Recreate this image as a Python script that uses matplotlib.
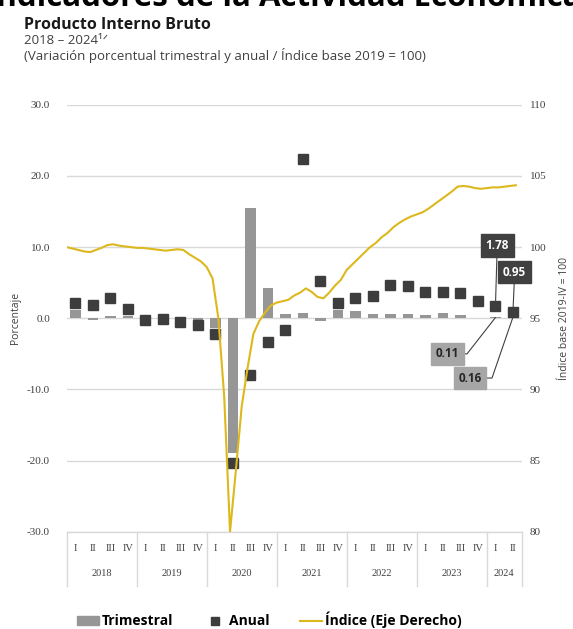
import matplotlib
matplotlib.use("Agg")
import matplotlib.pyplot as plt
from matplotlib.patches import Patch
from matplotlib.lines import Line2D
import matplotlib.transforms as mtransforms

plt.rcParams['font.family'] = ['Open Sans', 'DejaVu Sans']

years = ["2018", "2019", "2020", "2021", "2022", "2023", "2024"]
quarters_per_year = [4, 4, 4, 4, 4, 4, 2]
quarter_names = ["I", "II", "III", "IV"]

# Quarterly % change (bars)
trimestral = [1.1, -0.2, 0.3, 0.3,
              0.1, -0.2, -0.3, -0.5,
              -1.3, -18.9, 15.5, 4.3,
              0.6, 0.7, -0.4, 1.2,
              1.0, 0.6, 0.6, 0.6,
              0.4, 0.7, 0.4, 0.1,
              0.11, 0.16]
# Annual % change (squares)
anual = [2.2, 1.8, 2.8, 1.3,
         -0.2, -0.1, -0.5, -1.0,
         -2.2, -20.4, -8.0, -3.3,
         -1.6, 22.4, 5.2, 2.1,
         2.9, 3.1, 4.7, 4.5,
         3.7, 3.7, 3.5, 2.4,
         1.78, 0.95]
# Monthly index (right axis), Jan 2018 - Jun 2024
indice = [100.0, 99.9, 99.8, 99.7, 99.65, 99.8, 99.95, 100.15, 100.2, 100.1, 100.05, 100.0,
          99.95, 99.95, 99.9, 99.85, 99.8, 99.75, 99.8, 99.85, 99.8, 99.5, 99.25, 99.0,
          98.6, 97.8, 95.0, 89.5, 80.0, 84.3, 88.8, 91.5, 93.9, 94.8, 95.4, 95.9,
          96.1, 96.2, 96.3, 96.6, 96.8, 97.1, 96.85, 96.5, 96.4, 96.8, 97.3, 97.7,
          98.4, 98.8, 99.2, 99.6, 100.0, 100.3, 100.7, 101.0, 101.4, 101.7, 101.95, 102.15,
          102.3, 102.45, 102.7, 103.0, 103.3, 103.6, 103.9, 104.25, 104.3, 104.25, 104.15, 104.1,
          104.15, 104.2, 104.2, 104.25, 104.3, 104.35]

left_ticks = [30, 20, 10, 0, -10, -20, -30]
right_ticks = [110, 105, 100, 95, 90, 85, 80]

bar_color = "#969696"
sq_color = "#3d3d3d"
line_color = "#DDB81C"
grid_color = "#d9d9d9"
txt_color = "#404040"

fig = plt.figure(figsize=(5.73, 6.29), dpi=100)
ax = fig.add_axes([0.1164, 0.1547, 0.7941, 0.6786])
ax2 = ax.twinx()

n = len(trimestral)
xq = list(range(n))
ax.bar(xq, trimestral, width=0.58, color=bar_color, zorder=2)
ax.plot(xq, anual, linestyle="none", marker="s", markersize=6.8,
        color=sq_color, zorder=3)

xm = [-0.5 + m / 3 for m in range(len(indice))]
ax2.plot(xm, indice, color=line_color, lw=1.5, zorder=4)

ax.set_xlim(-0.5, n - 0.5)
ax.set_ylim(-30, 30)
ax2.set_ylim(80, 110)
ax.set_yticks(left_ticks)
ax.set_yticklabels([f"{v:.1f}" for v in left_ticks], fontsize=8,
                   color=txt_color, family="Liberation Serif")
ax2.set_yticks(right_ticks)
ax2.set_yticklabels([str(v) for v in right_ticks], fontsize=8,
                    color=txt_color, family="Liberation Serif")
ax.tick_params(axis="y", length=0, pad=12)
ax2.tick_params(axis="y", length=0, pad=6)
ax.set_xticks([])
ax.grid(axis="y", color=grid_color, lw=1, zorder=0)
ax.set_axisbelow(True)
for a in (ax, ax2):
    for s in a.spines.values():
        s.set_visible(False)
ax.axhline(-30, color=grid_color, lw=1, zorder=1, clip_on=False)

ax.set_ylabel("Porcentaje", fontsize=7.5, color=txt_color, labelpad=4)
ax2.set_ylabel("Índice base 2019-IV = 100", fontsize=7.5, color=txt_color,
               rotation=90, labelpad=9)

# category table below axis
trans = mtransforms.blended_transform_factory(ax.transData, ax.transAxes)
pos = -0.5
sep_bottom = -0.127
ax.plot([pos, pos], [0, sep_bottom], transform=trans, color=grid_color,
        lw=1, clip_on=False)
qi = 0
for yr, nq in zip(years, quarters_per_year):
    for k in range(nq):
        ax.text(qi, -0.04, quarter_names[k], transform=trans, ha="center",
                va="center", fontsize=7.5, color=txt_color,
                family="Liberation Serif")
        qi += 1
    ax.text(pos + nq / 2, -0.098, yr, transform=trans, ha="center",
            va="center", fontsize=7.5, color=txt_color,
            family="Liberation Serif")
    pos += nq
    ax.plot([pos, pos], [0, sep_bottom], transform=trans, color=grid_color,
            lw=1, clip_on=False)

# annotations
dark_box = dict(boxstyle="square,pad=0.4", fc="#404040", ec="#404040")
grey_box = dict(boxstyle="square,pad=0.4", fc="#a6a6a6", ec="#a6a6a6")
ax.annotate(f"{anual[24]:.2f}", xy=(24, anual[24]), xytext=(24.1, 10.2),
            ha="center", va="center", fontsize=8.5, fontweight="bold",
            color="white", bbox=dark_box,
            arrowprops=dict(arrowstyle="-", color="#404040", lw=0.8,
                            shrinkA=0, shrinkB=3), zorder=6)
ax.annotate(f"{anual[25]:.2f}", xy=(25, anual[25]), xytext=(25.1, 6.5),
            ha="center", va="center", fontsize=8.5, fontweight="bold",
            color="white", bbox=dark_box,
            arrowprops=dict(arrowstyle="-", color="#404040", lw=0.8,
                            shrinkA=0, shrinkB=3), zorder=6)
ax.annotate(f"{trimestral[24]:.2f}", xy=(24, trimestral[24]), xytext=(21.25, -5.0),
            ha="center", va="center", fontsize=8.5, fontweight="bold",
            color="#262626", bbox=grey_box,
            arrowprops=dict(arrowstyle="-", color="#404040", lw=0.8,
                            shrinkA=0, shrinkB=0, relpos=(1, 0.5),
                            connectionstyle="angle,angleA=0,angleB=52,rad=0"),
            zorder=6)
ax.annotate(f"{trimestral[25]:.2f}", xy=(25, trimestral[25]), xytext=(22.55, -8.4),
            ha="center", va="center", fontsize=8.5, fontweight="bold",
            color="#262626", bbox=grey_box,
            arrowprops=dict(arrowstyle="-", color="#404040", lw=0.8,
                            shrinkA=0, shrinkB=0, relpos=(1, 0.5),
                            connectionstyle="angle,angleA=0,angleB=71,rad=0"),
            zorder=6)

# titles
fig.text(-0.025, 0.991, "Indicadores de la Actividad Económica", fontsize=22.5,
         fontweight="bold", color="black", ha="left", va="baseline")
fig.text(0.042, 0.960, "Producto Interno Bruto", fontsize=11.5, fontweight="bold",
         color="#1a1a1a", ha="left", va="center")
fig.text(0.042, 0.935, "2018 – 2024¹ᐟ", fontsize=9.5, color=txt_color,
         ha="left", va="center", family=["Open Sans", "DejaVu Sans"])
fig.text(0.042, 0.912,
         "(Variación porcentual trimestral y anual / Índice base 2019 = 100)",
         fontsize=9.5, color=txt_color, ha="left", va="center")

# legend
handles = [Patch(facecolor=bar_color, edgecolor=bar_color),
           Line2D([], [], linestyle="none", marker="s", markersize=5.5, color=sq_color),
           Line2D([], [], color=line_color, lw=1.5)]
labels = ["Trimestral", "Anual", "Índice (Eje Derecho)"]
fig.legend(handles, labels, loc="center", bbox_to_anchor=(0.47, 0.014), ncol=3,
           frameon=False, prop=dict(size=10, weight="bold"),
           handlelength=1.6, handletextpad=0.2, columnspacing=2.2)

fig.savefig("out.png", dpi=100)
